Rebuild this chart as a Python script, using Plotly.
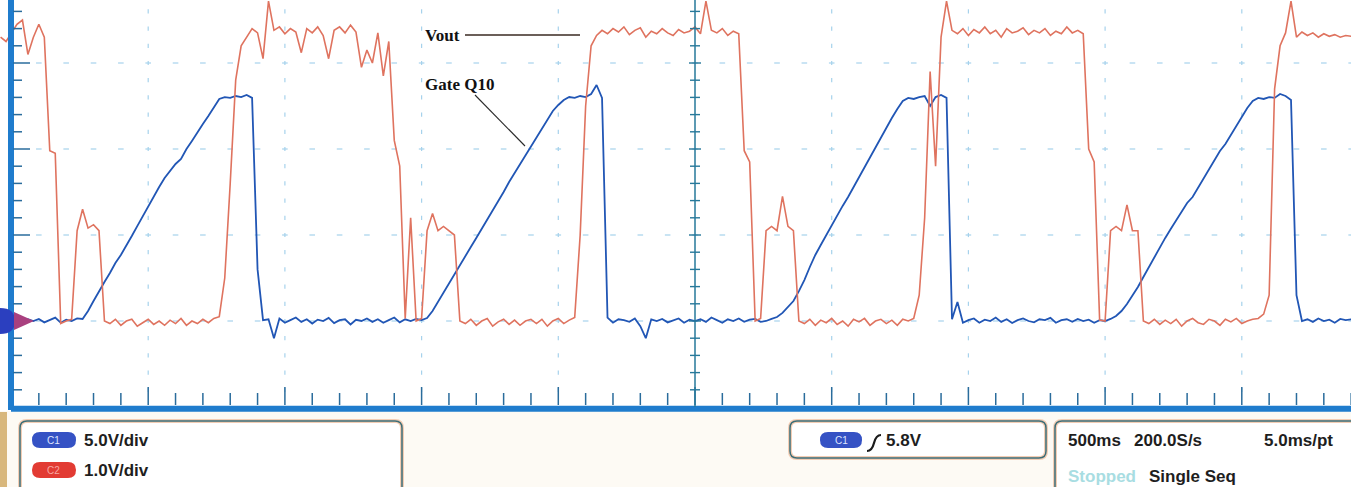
import numpy as np
import plotly.graph_objects as go

# ---------------- data ----------------
t_start = -2.54
dt = 0.02
n_samples = 248

# C1 : Gate Q10 (V), 5 V/div
gate_q10_v = [
    0.1, -0.1, 0.05, 0.15, -0.05, 0.1, 0.0, 0.12, -0.08, 0.05, 0.2, -0.1, 0.08, 0.0, 0.15,
    0.12, 0.58, 1.16, 1.74, 2.27, 2.79, 3.37, 3.84, 4.36, 4.94, 5.52, 6.10, 6.69, 7.27, 7.79, 8.31,
    8.72, 9.13, 9.42, 10.0, 10.47, 10.99, 11.45, 11.92, 12.44, 12.91, 13.02, 12.97, 13.08, 13.02, 13.14, 12.97,
    3.0, 0.05, 0.1, -1.0,
    0.15, -0.1, 0.05, 0.2, -0.05, 0.1, -0.15, 0.08, 0.0, 0.18, -0.12, 0.05, 0.1, -0.2, 0.07, 0.0,
    0.15, -0.05, 0.1, -0.1, 0.05, 0.2, -0.08, 0.1, 0.0, 0.12,
    0.05, 0.17, 0.58, 1.1, 1.63, 2.15, 2.67, 3.2, 3.72, 4.3, 4.83, 5.35, 5.87, 6.45, 6.98, 7.5, 8.08,
    8.6, 9.13, 9.65, 10.17, 10.7, 11.22, 11.74, 12.21, 12.56, 12.85, 13.02, 12.97, 13.08, 13.02, 13.2,
    13.72, 12.97,
    0.2, -0.1, 0.1, 0.05, -0.05, 0.15, -0.3, -1.0, 0.1, 0.0, 0.12, -0.08, 0.05, 0.15, -0.1, 0.08, 0.0,
    0.1, -0.05, 0.2, 0.05, -0.1, 0.1, 0.0, 0.15, -0.05, 0.08, 0.12, -0.05,
    0.0, 0.12, 0.23, 0.47, 0.81, 1.16, 1.74, 2.38, 3.14, 3.84, 4.42, 5.0, 5.52, 6.1, 6.69, 7.21, 7.79,
    8.37, 8.9, 9.48, 10.06, 10.64, 11.22, 11.8, 12.33, 12.79, 12.97, 12.91, 13.02, 13.08, 12.5, 13.02,
    13.14, 12.97,
    0.1, 1.1, -0.1, 0.05, 0.15, -0.1, 0.08, 0.0, 0.2, -0.05, 0.1, -0.12, 0.05, 0.15, 0.0, -0.08, 0.1,
    0.05, 0.18, -0.1, 0.05, 0.1, -0.05, 0.12, 0.0, 0.08, -0.1, 0.05,
    0.0, 0.12, 0.29, 0.58, 0.99, 1.45, 1.98, 2.56, 3.14, 3.72, 4.3, 4.83, 5.35, 5.87, 6.4, 6.86, 7.21,
    7.73, 8.26, 8.84, 9.3, 9.88, 10.29, 10.81, 11.4, 11.86, 12.38, 12.79, 12.97, 12.91, 13.02, 12.97,
    13.2, 13.08, 12.85, 1.5, 0.0,
    0.1, -0.05, 0.15, 0.0, 0.08, -0.1, 0.12, 0.05, 0.1,
]

# C2 : Vout (V), 1 V/div
vout_v = [
    3.3, 3.25, 3.35, 3.45, 3.5, 3.1, 3.3, 3.45, 3.3, 1.98, 1.95,
    -0.03, 0.0, 0.02, 1.05, 1.3, 1.08, 1.12, 1.05, 0.0,
    -0.03, 0.02, -0.05, 0.0, 0.02, -0.06, -0.02, 0.02, -0.04, 0.0, -0.05, 0.01, -0.03, 0.03, -0.05, 0.0,
    -0.03, 0.02, -0.02, 0.03,
    0.05, 0.5, 1.6, 2.8, 3.2, 3.3, 3.4, 3.35, 3.05,
    3.72, 3.38, 3.42, 3.34, 3.4, 3.36, 3.12, 3.4, 3.35, 3.42, 3.32, 3.05, 3.38, 3.42, 3.35, 3.44, 3.36,
    2.95, 3.15, 3.0, 3.35, 2.85, 3.25,
    2.1, 1.8, 0.03, 1.2, 0.0, 0.03, 1.05, 1.25, 1.05, 1.1, 1.05, 1.0, 0.0,
    -0.03, 0.02, -0.05, 0.0, 0.03, -0.06, -0.01, 0.02, -0.04, 0.01, -0.05, 0.0, 0.02, -0.03, 0.02, -0.06,
    0.0, 0.03, -0.03, 0.01, 0.04,
    1.0, 2.5, 3.2,
    3.32, 3.38, 3.34, 3.4, 3.36, 3.42, 3.33, 3.38, 3.41, 3.3, 3.37, 3.34, 3.4, 3.35, 3.32, 3.39, 3.35,
    3.37, 3.42, 3.34, 3.72, 3.38, 3.35, 3.4, 3.32, 3.37, 3.34,
    1.98, 1.85, 0.0, 0.03, 1.05, 1.1, 1.05, 1.45, 1.1, 1.05, 0.0,
    -0.03, 0.02, -0.05, 0.01, -0.02, 0.03, -0.04, 0.0, -0.06, 0.02, -0.01, 0.03, -0.05, 0.0, 0.02, -0.03,
    0.01, -0.05, 0.02, 0.0, 0.03,
    0.3, 1.2, 2.9, 1.8, 3.3, 3.72,
    3.38, 3.34, 3.4, 3.32, 3.39, 3.35, 3.42, 3.34, 3.38, 3.3, 3.4, 3.35, 3.37, 3.41, 3.33, 3.38, 3.35,
    3.4, 3.32, 3.37, 3.34, 3.42, 3.35, 3.38, 3.34,
    2.0, 1.85, 0.01, 0.0, 1.05, 1.1, 1.05, 1.35, 1.05, 1.05, 0.0,
    -0.03, 0.02, -0.04, 0.01, -0.03, 0.02, -0.06, 0.0, 0.03, -0.02, -0.04, 0.02, 0.0, -0.05, 0.02, -0.01,
    0.03, -0.03, 0.0, 0.02, 0.03, 0.08,
    0.3, 2.7, 3.2, 3.35, 3.72, 3.3, 3.36, 3.32, 3.35, 3.3, 3.34, 3.31, 3.33, 3.3, 3.32, 3.31,
]

# scope settings shown on screen
c1_scale_label = "5.0V/div"
c2_scale_label = "1.0V/div"
trigger_label = "5.8V"
timebase_labels = ["500ms", "200.0S/s", "5.0ms/pt"]
status_labels = ["Stopped", "Single Seq"]

assert len(gate_q10_v) == n_samples and len(vout_v) == n_samples
time_s = t_start + dt * np.arange(n_samples)

# ---------------- screen geometry / styles ----------------
W, H = 1351, 487
X_CENTER_PX = 695.0
PX_PER_S = 273.4          # 500 ms/div, 136.7 px/div
Y_GND_PX = 321.0
PX_PER_DIV = 86.0
C1_V_PER_DIV, C2_V_PER_DIV = 5.0, 1.0

x_range = [(0 - X_CENTER_PX) / PX_PER_S, (W - X_CENTER_PX) / PX_PER_S]
y1_range = [(Y_GND_PX - H) / PX_PER_DIV * C1_V_PER_DIV, Y_GND_PX / PX_PER_DIV * C1_V_PER_DIV]
y2_range = [(Y_GND_PX - H) / PX_PER_DIV * C2_V_PER_DIV, Y_GND_PX / PX_PER_DIV * C2_V_PER_DIV]

BLUE = "#2156b5"
RED = "#df735f"
GRID = "#a6d2ec"
AXIS = "#1f7ccd"
TICK = "#2a6c9c"

fig = go.Figure()

# grid dashes (dotted graticule)
minor_t = np.round(np.arange(-25, 25) * 0.1, 3)
major_t = [-2.0, -1.5, -1.0, -0.5, 0.5, 1.0, 1.5, 2.0]
grid_levels = [0, 5, 10, 15]
gx, gy = [], []
for lv in grid_levels:
    for t in minor_t:
        if t > -2.45:
            gx.append(t); gy.append(lv)
fig.add_trace(go.Scatter(x=gx, y=gy, mode="markers", hoverinfo="skip", showlegend=False,
                         marker=dict(symbol="line-ew", size=4, line=dict(width=1.2, color=GRID))))
vx, vy = [], []
for t in major_t:
    for v in range(-4, 19):
        vx.append(t); vy.append(v)
fig.add_trace(go.Scatter(x=vx, y=vy, mode="markers", hoverinfo="skip", showlegend=False,
                         marker=dict(symbol="line-ns", size=3, line=dict(width=1.2, color=GRID))))

# waveforms
fig.add_trace(go.Scatter(x=time_s, y=gate_q10_v, mode="lines", name="Gate Q10",
                         line=dict(color=BLUE, width=1.8), yaxis="y"))
fig.add_trace(go.Scatter(x=time_s, y=vout_v, mode="lines", name="Vout",
                         line=dict(color=RED, width=1.6), yaxis="y2"))

shapes = []
# left axis bar and ticks
left_t = x_range[0] + 11.0 / PX_PER_S
shapes.append(dict(type="line", xref="x", yref="paper", x0=left_t, x1=left_t, y0=1 - 410 / H, y1=1,
                   line=dict(color=AXIS, width=6)))
for v in range(-4, 19):
    ln = 17 if v % 5 == 0 else 9
    shapes.append(dict(type="line", xref="x", yref="y", xsizemode="pixel", xanchor=left_t,
                       x0=2, x1=2 + ln, y0=v, y1=v, line=dict(color=TICK, width=1.5)))
# bottom axis bar and ticks
for k in range(-24, 25):
    t = k * 0.1
    ln = 18 if k % 5 == 0 else 12
    shapes.append(dict(type="line", xref="x", yref="y", ysizemode="pixel", yanchor=-5,
                       x0=t, x1=t, y0=2, y1=2 + ln, line=dict(color=TICK, width=1.5)))
shapes.append(dict(type="line", xref="x", yref="y", x0=left_t, x1=x_range[1], y0=-5.1, y1=-5.1,
                   line=dict(color=AXIS, width=6)))
# centre vertical line with ticks
shapes.append(dict(type="line", xref="x", yref="y", x0=0, x1=0, y0=-5, y1=y1_range[1],
                   line=dict(color="#26789a", width=1.5)))
for v in range(-4, 19):
    hw = 6 if v % 5 == 0 else 5
    shapes.append(dict(type="line", xref="x", yref="y", xsizemode="pixel", xanchor=0,
                       x0=-hw, x1=hw, y0=v, y1=v, line=dict(color="#26789a", width=1.4)))


def P(px, py):
    return px / W, 1 - py / H


def rrect(x0, y0, x1, y1, r):
    def s(px, py):
        a, b = P(px, py)
        return f"{a:.5f},{b:.5f}"
    return (f"M {s(x0 + r, y0)} L {s(x1 - r, y0)} Q {s(x1, y0)} {s(x1, y0 + r)} "
            f"L {s(x1, y1 - r)} Q {s(x1, y1)} {s(x1 - r, y1)} L {s(x0 + r, y1)} "
            f"Q {s(x0, y1)} {s(x0, y1 - r)} L {s(x0, y0 + r)} Q {s(x0, y0)} {s(x0 + r, y0)} Z")


# ground reference marker
a0, b0 = P(0, 308); a1, b1 = P(15, 321); a2, b2 = P(0, 334)
shapes.append(dict(type="path", xref="paper", yref="paper",
                   path=f"M {a0},{b0} Q {a1},{b0} {a1},{b1} Q {a1},{b2} {a2},{b2} Z",
                   fillcolor="#2b3fbf", line=dict(width=0)))
t0, u0 = P(14, 312); t1, u1 = P(34, 321); t2, u2 = P(14, 330)
shapes.append(dict(type="path", xref="paper", yref="paper",
                   path=f"M {t0},{u0} L {t1},{u1} L {t2},{u2} Z",
                   fillcolor="#a9407f", line=dict(width=0)))

# bottom info panel
bx0, by0 = P(0, 411); bx1, by1 = P(W, H)
shapes.append(dict(type="rect", xref="paper", yref="paper", x0=bx0, x1=bx1, y0=by1, y1=by0,
                   fillcolor="#fdfaf4", line=dict(width=0), layer="below"))
sx0, sy0 = P(0, 412); sx1, sy1 = P(7, H)
shapes.append(dict(type="rect", xref="paper", yref="paper", x0=sx0, x1=sx1, y0=sy1, y1=sy0,
                   fillcolor="#d8b77c", line=dict(width=0)))
for (x0, y0, x1, y1) in [(20, 421, 402, 500), (790, 421, 1046, 458), (1055, 421, 1365, 500)]:
    shapes.append(dict(type="path", xref="paper", yref="paper", path=rrect(x0, y0, x1, y1, 7),
                       fillcolor="#ffffff", line=dict(color="#f3cdb4", width=4)))
    shapes.append(dict(type="path", xref="paper", yref="paper", path=rrect(x0, y0, x1, y1, 7),
                       line=dict(color="#3d6e78", width=1.5)))
# channel pills
pills = [(32, 432, 76, 448, "#3552c4"), (32, 462, 76, 478, "#e23b33"), (820, 432, 862, 448, "#3552c4")]
for (x0, y0, x1, y1, c) in pills:
    shapes.append(dict(type="path", xref="paper", yref="paper", path=rrect(x0, y0, x1, y1, 8),
                       fillcolor=c, line=dict(width=0)))
# rising-edge trigger symbol
e = [P(867, 451), P(872, 451), P(874, 443), P(876, 435), P(881, 435)]
shapes.append(dict(type="path", xref="paper", yref="paper",
                   path=f"M {e[0][0]},{e[0][1]} Q {e[1][0]},{e[1][1]} {e[2][0]},{e[2][1]} "
                        f"Q {e[3][0]},{e[3][1]} {e[4][0]},{e[4][1]}",
                   line=dict(color="#1b1b1b", width=2.2)))
# annotation leader lines
l0, l1 = P(465, 35), P(580, 35)
shapes.append(dict(type="line", xref="paper", yref="paper", x0=l0[0], y0=l0[1], x1=l1[0], y1=l1[1],
                   line=dict(color="#3a2a22", width=1.6)))
g0, g1 = P(475, 95), P(525, 146)
shapes.append(dict(type="line", xref="paper", yref="paper", x0=g0[0], y0=g0[1], x1=g1[0], y1=g1[1],
                   line=dict(color="#2a2a2a", width=1.1)))

annotations = []


def label(px, py, text, size=17, color="#1e1e1e", family="Liberation Sans", bold=True, anchor="left"):
    a, b = P(px, py)
    annotations.append(dict(xref="paper", yref="paper", x=a, y=b, text=(f"<b>{text}</b>" if bold else text),
                            showarrow=False, xanchor=anchor, yanchor="middle",
                            font=dict(family=family, size=size, color=color)))


label(423, 35, "Vout", size=17, color="#111111", family="Liberation Serif")
label(423, 85, "Gate Q10", size=17, color="#111111", family="Liberation Serif")
label(54, 440, "C1", size=10, color="#dfe6ff", bold=False, anchor="center")
label(54, 470, "C2", size=10, color="#f7a7a2", bold=False, anchor="center")
label(841, 440, "C1", size=10, color="#dfe6ff", bold=False, anchor="center")
label(82, 440, c1_scale_label)
label(82, 470, c2_scale_label)
label(884, 440, trigger_label)
label(1066, 440, timebase_labels[0])
label(1132, 440, timebase_labels[1])
label(1262, 440, timebase_labels[2])
label(1066, 476, status_labels[0], color="#a8dde2")
label(1147, 476, status_labels[1])

fig.update_layout(
    width=W, height=H, margin=dict(l=0, r=0, t=0, b=0),
    paper_bgcolor="white", plot_bgcolor="white", showlegend=False,
    xaxis=dict(range=x_range, domain=[0, 1], visible=False, fixedrange=True),
    yaxis=dict(range=y1_range, domain=[0, 1], visible=False, fixedrange=True),
    yaxis2=dict(range=y2_range, overlaying="y", visible=False, fixedrange=True),
    shapes=shapes, annotations=annotations,
)

fig.write_html("out.html")
